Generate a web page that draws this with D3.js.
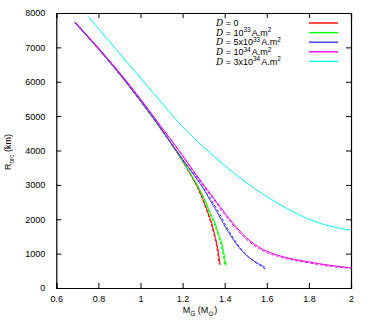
<!DOCTYPE html>
<html>
<head>
<meta charset="utf-8">
<script src="https://cdn.jsdelivr.net/npm/d3@7"></script>
<style>
  body { margin: 0; background: #fff; }
  svg { display: block; }
  text { font-family: "Liberation Sans", Arial, sans-serif; }
</style>
</head>
<body>
<svg id="chart" width="369" height="332"></svg>
<script>
// ---- data (M_G in solar masses, R_orc in km) ----
const xTicks = [0.6, 0.8, 1, 1.2, 1.4, 1.6, 1.8, 2];
const yTicks = [0, 1000, 2000, 3000, 4000, 5000, 6000, 7000, 8000];

const legendLabels = [
  { pre: " = 0", exp: null, unit: null },
  { pre: " = 10", exp: "33", unit: "A.m" },
  { pre: " = 5x10", exp: "33", unit: "A.m" },
  { pre: " = 10", exp: "34", unit: "A.m" },
  { pre: " = 3x10", exp: "34", unit: "A.m" }
];
const seriesColors = ["#ff0000", "#00ff00", "#3a3aff", "#ff00ff", "#00ffff"];

const redSolid = [[0.689,7718],[0.8,6960],[0.9,6230],[1.0,5440],[1.1,4600],[1.15,4160],[1.2,3690],[1.235,3337],[1.27,2950],[1.298,2560],[1.32,2200],[1.338,1882],[1.352,1560],[1.362,1300],[1.372,950],[1.378,680]];
const redDashed = [[0.689,7718],[0.8,6950],[0.9,6220],[1.0,5430],[1.1,4590],[1.15,4150],[1.2,3680],[1.235,3320],[1.27,2930],[1.296,2560],[1.318,2200],[1.335,1882],[1.349,1560],[1.359,1300],[1.368,950],[1.374,680]];
const greenSolid = [[0.689,7718],[0.8,6962],[0.9,6233],[1.0,5445],[1.1,4607],[1.15,4170],[1.2,3705],[1.235,3360],[1.27,2990],[1.306,2560],[1.33,2200],[1.354,1882],[1.372,1560],[1.386,1300],[1.398,950],[1.406,650]];
const greenDashed = [[0.689,7718],[0.8,6958],[0.9,6228],[1.0,5438],[1.1,4600],[1.15,4162],[1.2,3695],[1.235,3348],[1.27,2975],[1.302,2560],[1.326,2200],[1.349,1882],[1.367,1560],[1.381,1300],[1.393,950],[1.401,650]];
const blueSolid = [[0.689,7718],[0.8,6962],[0.9,6236],[1.0,5452],[1.1,4620],[1.2,3745],[1.26,3240],[1.3,2880],[1.33,2560],[1.365,2200],[1.393,1882],[1.433,1480],[1.473,1140],[1.52,870],[1.56,710],[1.591,610]];
const blueDashed = [[0.689,7718],[0.8,6955],[0.9,6230],[1.0,5445],[1.1,4612],[1.2,3725],[1.265,3200],[1.307,2830],[1.342,2500],[1.378,2130],[1.408,1790],[1.448,1390],[1.488,1060],[1.533,800],[1.572,640],[1.597,540]];
const magentaSolid = [[0.692,7720],[0.8,6985],[0.9,6270],[1.0,5500],[1.1,4680],[1.2,3860],[1.25,3420],[1.3,3000],[1.346,2630],[1.38,2350],[1.42,2030],[1.46,1740],[1.5,1480],[1.54,1280],[1.583,1120],[1.65,960],[1.7,875],[1.8,760],[1.9,660],[2.0,590]];
const magentaDashed = [[0.692,7715],[0.8,6975],[0.9,6258],[1.0,5485],[1.1,4660],[1.2,3835],[1.25,3390],[1.3,2965],[1.346,2590],[1.38,2305],[1.42,1980],[1.46,1690],[1.5,1435],[1.54,1240],[1.583,1080],[1.65,925],[1.7,845],[1.8,730],[1.9,635],[2.0,570]];
const cyanSolid = [[0.752,7893],[0.85,7190],[0.9,6830],[1.0,6110],[1.1,5395],[1.2,4690],[1.3,4100],[1.4,3560],[1.5,3080],[1.6,2660],[1.7,2300],[1.8,2000],[1.9,1800],[2.0,1680]];

const curves = [
  { data: redDashed, color: 0, dashed: true },
  { data: redSolid, color: 0, dashed: false },
  { data: greenSolid, color: 1, dashed: false },
  { data: greenDashed, color: 1, dashed: true },
  { data: blueSolid, color: 2, dashed: false },
  { data: blueDashed, color: 2, dashed: true },
  { data: magentaSolid, color: 3, dashed: false },
  { data: magentaDashed, color: 3, dashed: true },
  { data: cyanSolid, color: 4, dashed: false }
];

// ---- layout ----
const svg = d3.select("#chart");
const pLeft = 56.3, pRight = 351, pTop = 13, pBottom = 288;
const x = d3.scaleLinear().domain([0.6, 2]).range([pLeft, pRight]);
const y = d3.scaleLinear().domain([0, 8000]).range([pBottom, pTop]);
const fs = 9;

svg.append("defs").append("clipPath").attr("id", "clip")
  .append("rect").attr("x", pLeft).attr("y", pTop).attr("width", pRight - pLeft).attr("height", pBottom - pTop);

const fmt = d => String(+d.toFixed(1));

const gB = svg.append("g").attr("transform", `translate(0,${pBottom})`)
  .call(d3.axisBottom(x).tickValues(xTicks).tickSize(-5).tickPadding(8).tickFormat(fmt));
const gT = svg.append("g").attr("transform", `translate(0,${pTop})`)
  .call(d3.axisTop(x).tickValues(xTicks).tickSize(-5).tickFormat(""));
const gL = svg.append("g").attr("transform", `translate(${pLeft},0)`)
  .call(d3.axisLeft(y).tickValues(yTicks).tickSize(-5).tickPadding(11).tickFormat(d3.format("d")));
const gR = svg.append("g").attr("transform", `translate(${pRight},0)`)
  .call(d3.axisRight(y).tickValues(yTicks).tickSize(-5).tickFormat(""));

[gB, gT, gL, gR].forEach(g => {
  g.select(".domain").attr("stroke", "#000").attr("stroke-width", 1.2);
  g.selectAll(".tick line").attr("stroke", "#000").attr("stroke-width", 1);
  g.selectAll("text").attr("font-size", fs).attr("fill", "#000")
    .attr("font-family", "'Liberation Sans', Arial, sans-serif");
});

// ---- curves ----
const line = d3.line().x(d => x(d[0])).y(d => y(d[1])).curve(d3.curveMonotoneX);
const plot = svg.append("g").attr("clip-path", "url(#clip)");
curves.forEach(c => {
  plot.append("path").datum(c.data)
    .attr("d", line)
    .attr("fill", "none")
    .attr("stroke", seriesColors[c.color])
    .attr("stroke-width", 1)
    .attr("stroke-dasharray", c.dashed ? "3,2" : null);
});

// ---- legend ----
const lg = svg.append("g");
legendLabels.forEach((L, i) => {
  const ly = 23 + i * 9.6;
  const t = lg.append("text").attr("x", 216).attr("y", ly + 3.2).attr("font-size", fs);
  t.append("tspan").attr("font-family", "'DejaVu Serif', serif").attr("font-style", "italic").text("D");
  t.append("tspan").text(L.pre);
  if (L.exp) {
    t.append("tspan").attr("dy", -3.5).attr("font-size", 6.5).text(L.exp);
    t.append("tspan").attr("dy", 3.5).attr("dx", -1).text(" " + L.unit);
    t.append("tspan").attr("dy", -3.5).attr("font-size", 6.5).text("2");
  }
  lg.append("line").attr("x1", 309).attr("x2", 338).attr("y1", ly).attr("y2", ly)
    .attr("stroke", seriesColors[i]).attr("stroke-width", 1.4);
});

// ---- axis titles ----
const xt = svg.append("text").attr("x", 200).attr("y", 313).attr("text-anchor", "middle").attr("font-size", fs);
xt.append("tspan").text("M");
xt.append("tspan").attr("dy", 2.5).attr("font-size", 6.5).text("G");
xt.append("tspan").attr("dy", -2.5).text(" (M");
xt.append("tspan").attr("dy", 2.5).attr("font-size", 6.5).text("⊙");
xt.append("tspan").attr("dy", -2.5).text(")");

const yt = svg.append("text").attr("transform", "translate(11,152) rotate(-90)").attr("text-anchor", "middle").attr("font-size", fs);
yt.append("tspan").text("R");
yt.append("tspan").attr("dy", 2.5).attr("font-size", 6.5).text("orc");
yt.append("tspan").attr("dy", -2.5).text(" (km)");
</script>
</body>
</html>
